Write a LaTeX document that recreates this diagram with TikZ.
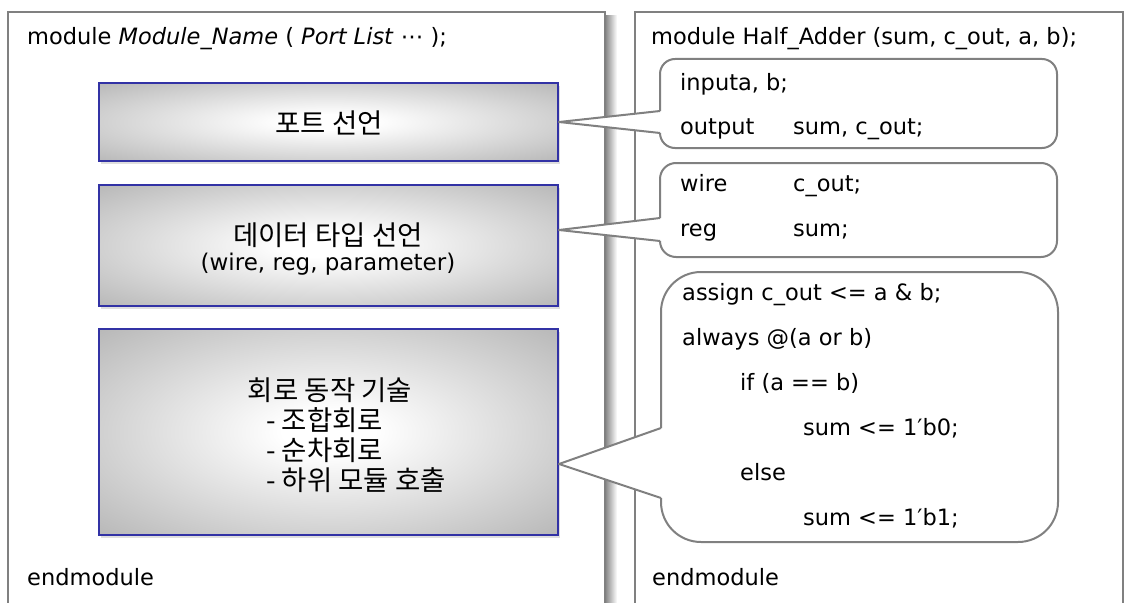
\documentclass[tikz,border=0pt]{standalone}
\usepackage{fontspec}
\setmainfont{DejaVu Sans}
\newfontfamily\kr{Noto Sans CJK KR}
\usetikzlibrary{shadows}

\definecolor{framegray}{RGB}{128,128,128}
\definecolor{panelgray}{RGB}{150,150,150}
\definecolor{panelblue}{RGB}{50,50,165}

% white centre fading to grey towards the panel edges
\pgfdeclareradialshading{panelglow}{\pgfpoint{0bp}{0bp}}{%
  color(0bp)=(white); color(5bp)=(white);
  color(50bp)=(panelgray); color(71bp)=(panelgray!88!black)}

% rounded speech bubble: left x, top y, right x, bottom y, radius,
% upper and lower attach heights on the left side, tip coordinate
\newcommand{\speechbubble}[8]{%
  \fill[white] (#1,#6) -- (#8) -- (#1,#7) -- cycle;
  \filldraw[bubble, rounded corners=#5pt]
    (#1,#7) -- (#1,#4) -- (#3,#4) -- (#3,#2) -- (#1,#2) -- (#1,#6);
  \draw[bubble] (#1,#6) -- (#8) -- (#1,#7);
}

\tikzset{
  frame/.style={draw=framegray, line width=2pt, fill=white},
  panel/.style={draw=panelblue, line width=2pt, shading=panelglow,
    inner sep=0pt, minimum width=459pt,
    drop shadow={opacity=0.25, shadow xshift=2pt, shadow yshift=-3pt}},
  bubble/.style={draw=framegray, fill=white, line width=2pt, line join=round},
  code/.style={anchor=base west, inner sep=0pt, font=\fontsize{22.5}{26}\selectfont},
  krtext/.style={inner sep=0pt, font=\kr\fontsize{27.5}{32}\selectfont},
  latintext/.style={inner sep=0pt, font=\fontsize{23}{28}\selectfont},
}

\begin{document}
\begin{tikzpicture}[x=1pt, y=-1pt]
  \fill[white] (0,0) rectangle (1126,602);
  \useasboundingbox (0,0) rectangle (1126,602);
  \clip (0,0) rectangle (1126,602);

  % module outlines
  \shade[left color=black!45, right color=white] (606,16) rectangle (617,620);
  \draw[frame] (8,12) rectangle (605,620);
  \draw[frame] (635,12) rectangle (1123,620);

  % generic module template
  \node[code] (tmplhead) at (27,45)
    {module \textit{Module\_Name} ( \textit{Port List} ⋯ );};
  \node[code] (tmplend) at (27,585) {endmodule};

  \node[panel, minimum height=78pt] (ports) at (328.5,122) {};
  \node[panel, minimum height=121pt] (types) at (328.5,245.5) {};
  \node[panel, minimum height=206pt] (behav) at (328.5,432) {};

  \node[krtext, anchor=base] (portsT) at (329,133) {포트 선언};
  \node[krtext, anchor=base] (typesT) at (328,245) {데이터 타입 선언};
  \node[latintext, anchor=base] (typesL) at (328,270) {(wire, reg, parameter)};
  \node[krtext, anchor=base] (behavT) at (330,400) {회로 동작 기술};
  \node[krtext, anchor=base west] (behavA) at (266,430) {- 조합회로};
  \node[krtext, anchor=base west] (behavB) at (266,460) {- 순차회로};
  \node[krtext, anchor=base west] (behavC) at (266,490) {- 하위 모듈 호출};

  % half adder example
  \coordinate (tipA) at (ports.east);
  \coordinate (tipB) at ([yshift=15.5pt]types.east);
  \coordinate (tipC) at ([yshift=-32pt]behav.east);

  \speechbubble{660}{59}{1057}{148}{15}{111}{133}{tipA}
  \speechbubble{660}{163}{1057}{257}{16}{218}{241}{tipB}
  \speechbubble{661}{272}{1058}{542}{40}{428}{498}{tipC}

  \node[code] (hahead) at (651,45) {module Half\_Adder (sum, c\_out, a, b);};
  \node[code] (inL) at (680,90) {inputa, b;};
  \node[code] (outL) at (680,134) {output};
  \node[code] (outR) at (793,134) {sum, c\_out;};
  \node[code] (wireL) at (680,191) {wire};
  \node[code] (wireR) at (793,191) {c\_out;};
  \node[code] (regL) at (680,236) {reg};
  \node[code] (regR) at (793,236) {sum;};

  \node[code] (l1) at (682,300) {assign c\_out <= a \& b;};
  \node[code] (l2) at (682,345) {always @(a or b)};
  \node[code] (l3) at (740,390) {if (a == b)};
  \node[code] (l4) at (803,435) {sum <= 1′b0;};
  \node[code] (l5) at (740,480) {else};
  \node[code] (l6) at (803,525) {sum <= 1′b1;};
  \node[code] (haend) at (652,585) {endmodule};
\end{tikzpicture}
\end{document}
